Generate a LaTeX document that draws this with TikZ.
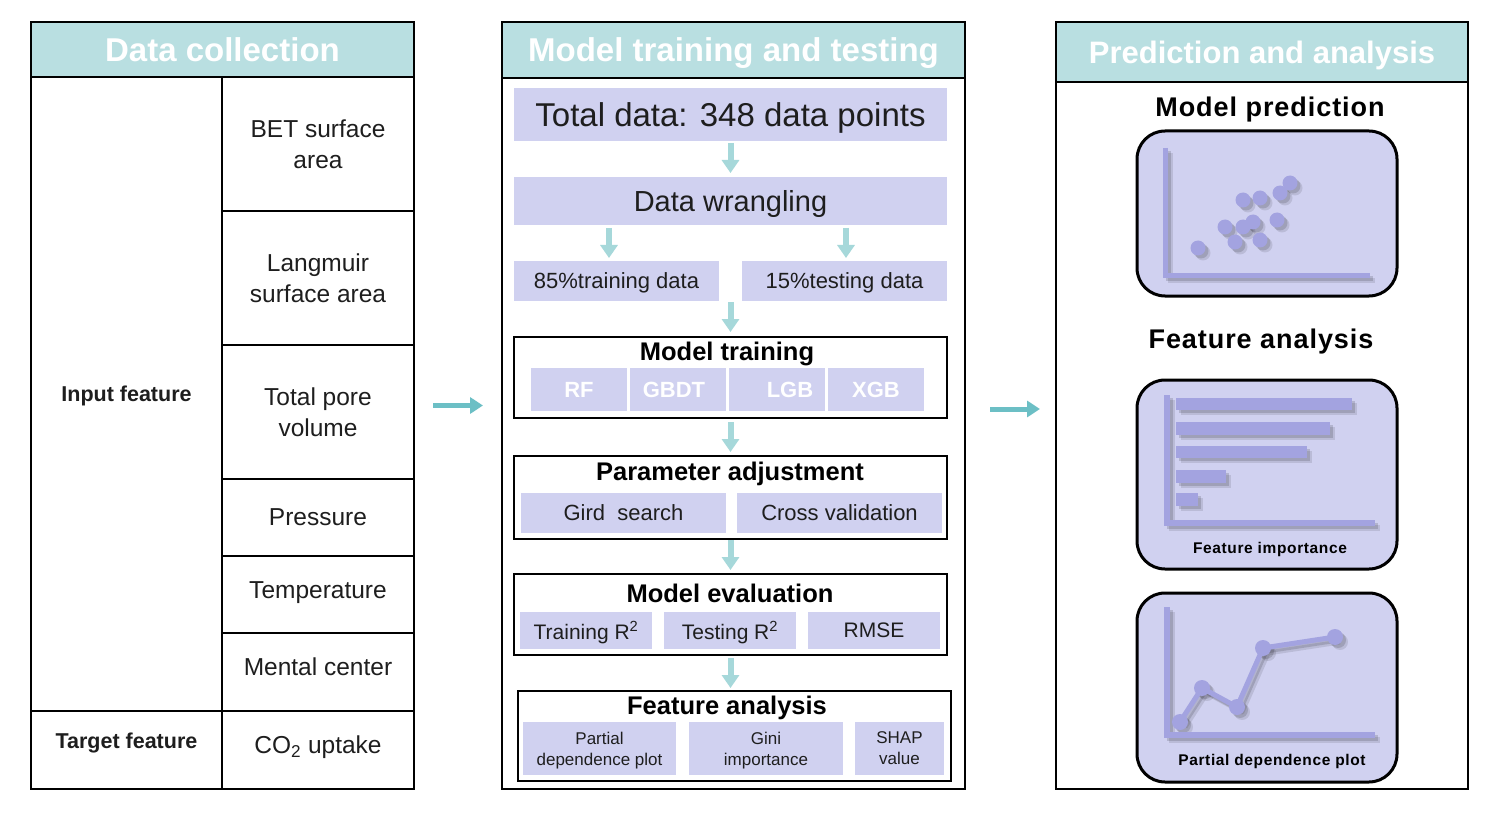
\documentclass[tikz,border=0pt]{standalone}
\usepackage{fontspec}
\setmainfont{Liberation Sans}
\usetikzlibrary{arrows.meta,calc}
\definecolor{hdrc}{RGB}{185,223,225}
\definecolor{lavc}{RGB}{208,209,240}
\definecolor{pltc}{RGB}{163,163,224}
\definecolor{harc}{RGB}{108,191,197}
\definecolor{varc}{RGB}{166,216,218}
\definecolor{txtc}{RGB}{30,30,30}
\newcommand{\fsz}[2]{\fontsize{#1}{#2}\selectfont}
\newcommand{\scatterchart}[1]{%
  \draw[#1, line width=5pt, line join=miter] (1165,148) -- (1165,275.5) -- (1370,275.5);
  \foreach \px/\py in {1198/248,1225/227,1235/242,1243/200,1260/198,1243/227,1253/222,1260/240,1277/220,1280/193,1290/183}
    \fill[#1] (\px,\py) circle[radius=7.5pt];}
\newcommand{\barchart}[1]{%
  \draw[#1, line width=6pt, line join=miter] (1167,395) -- (1167,523) -- (1375,523);
  \fill[#1] (1176,398) rectangle (1352,410);
  \fill[#1] (1176,422) rectangle (1330,435);
  \fill[#1] (1176,446) rectangle (1307,458);
  \fill[#1] (1176,470) rectangle (1226,483);
  \fill[#1] (1176,493) rectangle (1198,506);}
\newcommand{\linechart}[1]{%
  \draw[#1, line width=6pt, line join=miter] (1167,607) -- (1167,735) -- (1375,735);
  \draw[#1, line width=5pt, line join=round] (1180,722) -- (1202,688) -- (1237,707) -- (1263,648) -- (1335,637);
  \foreach \px/\py in {1180/722,1202/688,1237/707,1263/648,1335/637}
    \fill[#1] (\px,\py) circle[radius=8pt];}
\begin{document}
\begin{tikzpicture}[x=1pt,y=-1pt,
  every node/.style={inner sep=0pt, outer sep=0pt, align=center, text=txtc, text depth=0pt},
  panel/.style={draw=black, line width=2pt, fill=white},
  hdr/.style={draw=black, line width=1.5pt, fill=hdrc, text=white, font=\fsz{33}{38}\bfseries},
  cell/.style={draw=black, line width=1.5pt, font=\fsz{24.5}{31}},
  celltxt/.style={font=\fsz{24.5}{31}},
  lbox/.style={fill=lavc},
  frame/.style={draw=black, line width=2pt, fill=white},
  ttl/.style={font=\fsz{25.5}{30}\bfseries, text=black},
  varrow/.style={draw=varc, line width=6pt, -{Triangle[width=17pt,length=13pt]}},
  harrow/.style={draw=harc, line width=5pt, -{Triangle[width=16pt,length=13pt]}},
  rbox/.style={draw=black, line width=3pt, fill=lavc, rounded corners=28pt},
  rttl/.style={font=\fsz{27}{32}\bfseries\addfontfeatures{LetterSpace=3.5}, text=black},
  ctxt/.style={font=\fsz{15.5}{19}\bfseries\addfontfeatures{LetterSpace=4}, text=black},
]
\useasboundingbox[fill=white] (0,0) rectangle (1500,821);

% ---------- Left panel ----------
\node[panel, minimum width=383pt, minimum height=767pt] (p1) at (222.5,405.5) {};
\node[hdr, minimum width=383pt, minimum height=55pt] (h1) at (222.5,49.5) {Data collection};
\node[cell, minimum width=191pt, minimum height=634pt, font=\fsz{21.5}{26}\bfseries] (inp) at (126.5,394) {Input feature};
\node[cell, minimum width=191pt, minimum height=78pt] (tgt) at (126.5,750) {};
\node[font=\fsz{21.5}{26}\bfseries] (tgtl) at (126.5,741) {Target feature};
\node[cell, minimum width=192pt, minimum height=134pt] (bet) at (318,144) {BET surface\\area};
\node[cell, minimum width=192pt, minimum height=134pt] (lang) at (318,278) {Langmuir\\surface area};
\node[cell, minimum width=192pt, minimum height=134pt] (tpv) at (318,412) {Total pore\\volume};
\node[cell, minimum width=192pt, minimum height=77pt] (pres) at (318,517.5) {Pressure};
\node[cell, minimum width=192pt, minimum height=77pt] (temp) at (318,594.5) {};
\node[celltxt] (templ) at (318,590) {Temperature};
\node[cell, minimum width=192pt, minimum height=78pt] (ment) at (318,672) {};
\node[celltxt] (mentl) at (318,667) {Mental center};
\node[cell, minimum width=192pt, minimum height=78pt] (co2) at (318,750) {};
\node[celltxt] (co2l) at (318,745) {CO\textsubscript{2} uptake};
\draw[draw=black, line width=2pt] (p1.north west) rectangle (p1.south east);

% ---------- Middle panel ----------
\node[panel, minimum width=463pt, minimum height=767pt] (p2) at (733.5,405.5) {};
\node[hdr, minimum width=463pt, minimum height=56pt] (h2) at (733.5,50) {Model training and testing};
\node[lbox, minimum width=433pt, minimum height=53pt, font=\fsz{33}{38}] (tot) at (730.5,114.5) {Total data: 348 data points};
\node[lbox, minimum width=433pt, minimum height=48pt, font=\fsz{29}{34}] (wr) at (730.5,201) {Data wrangling};
\node[lbox, minimum width=205pt, minimum height=40pt, font=\fsz{22}{26}] (trd) at (616.5,281) {85\%training data};
\node[lbox, minimum width=205pt, minimum height=40pt, font=\fsz{22}{26}] (ted) at (844.5,281) {15\%testing data};

\node[frame, minimum width=433pt, minimum height=81pt] (mt) at (730.5,377.5) {};
\node[ttl] (mtt) at (727,351) {Model training};
\node[lbox, minimum width=96pt, minimum height=43pt, text=white, font=\fsz{22}{26}\bfseries] (rf) at (579,389.5) {RF};
\node[lbox, minimum width=96pt, minimum height=43pt, text=white, font=\fsz{22}{26}\bfseries] (gb) at (678,389.5) {GBDT\hspace*{8pt}};
\node[lbox, minimum width=96pt, minimum height=43pt, text=white, font=\fsz{22}{26}\bfseries] (lg) at (777,389.5) {\hspace*{26pt}LGB};
\node[lbox, minimum width=96pt, minimum height=43pt, text=white, font=\fsz{22}{26}\bfseries] (xg) at (876,389.5) {XGB};

\node[frame, minimum width=433pt, minimum height=83pt] (pa) at (730.5,497.5) {};
\node[ttl] (pat) at (730,471) {Parameter adjustment};
\node[lbox, minimum width=205pt, minimum height=40pt, font=\fsz{22}{26}] (gs) at (623.5,513) {Gird\ \ search};
\node[lbox, minimum width=205pt, minimum height=40pt, font=\fsz{22}{26}] (cv) at (839.5,513) {Cross validation};

\node[frame, minimum width=433pt, minimum height=81pt] (me) at (730.5,614.5) {};
\node[ttl] (met) at (730,593) {Model evaluation};
\node[lbox, minimum width=132pt, minimum height=37pt, font=\fsz{21}{25}] (trr) at (586,630.5) {Training R\textsuperscript{2}};
\node[lbox, minimum width=132pt, minimum height=37pt, font=\fsz{21}{25}] (ter) at (730,630.5) {Testing R\textsuperscript{2}};
\node[lbox, minimum width=132pt, minimum height=37pt, font=\fsz{21}{25}] (rmse) at (874,630.5) {RMSE};

\node[frame, minimum width=433pt, minimum height=90pt] (fa) at (734.5,736) {};
\node[ttl] (fat) at (727,705) {Feature analysis};
\node[lbox, minimum width=153pt, minimum height=53pt, font=\fsz{17}{21}] (pdp) at (599.5,748.5) {Partial\\dependence plot};
\node[lbox, minimum width=154pt, minimum height=53pt, font=\fsz{17}{21}] (gini) at (766,748.5) {Gini\\importance};
\node[lbox, minimum width=89pt, minimum height=53pt, font=\fsz{17}{21}] (shap) at (899.5,748.5) {SHAP\\value};

\draw[varrow, shorten <=2pt, shorten >=4pt] (tot.south) -- (wr.north);
\draw[varrow, shorten <=3pt, shorten >=3pt] ([xshift=-7.5pt]wr.south -| trd.north) -- ([xshift=-7.5pt]trd.north);
\draw[varrow, shorten <=3pt, shorten >=3pt] ([xshift=1.5pt]wr.south -| ted.north) -- ([xshift=1.5pt]ted.north);
\draw[varrow, shorten <=1pt, shorten >=5pt] (trd.south -| mt.north) -- (mt.north);
\draw[varrow, shorten <=4pt, shorten >=4pt] (mt.south) -- (pa.north);
\draw[varrow, shorten <=1pt, shorten >=4pt] (pa.south) -- (me.north);
\draw[varrow, shorten <=3pt, shorten >=3pt] (me.south) -- (me.south |- fa.north);

% ---------- Right panel ----------
\node[panel, minimum width=412pt, minimum height=767pt] (p3) at (1262,405.5) {};
\node[hdr, minimum width=412pt, minimum height=60pt, font=\fsz{31}{36}\bfseries] (h3) at (1262,52) {Prediction and analysis};
\node[rttl] (mpt) at (1270,107) {Model prediction};
\node[rbox, minimum width=260pt, minimum height=165pt] (b1) at (1267,213.5) {};
\node[rttl] (fat2) at (1261,339) {Feature analysis};
\node[rbox, minimum width=260pt, minimum height=189pt] (b2) at (1267,474.5) {};
\node[rbox, minimum width=260pt, minimum height=189pt] (b3) at (1267,687.5) {};

\foreach \d/\op in {5/0.10, 3/0.14} {
  \begin{scope}[shift={(\d,\d)}]
    \scatterchart{black, opacity=\op}
    \barchart{black, opacity=\op}
    \linechart{black, opacity=\op}
  \end{scope}
}
\scatterchart{pltc}
\barchart{pltc}
\linechart{pltc}
\node[ctxt] (fil) at (1270,548) {Feature importance};
\node[ctxt] (pdl) at (1272,760) {Partial dependence plot};

% ---------- Connecting arrows ----------
\draw[harrow, shorten <=19pt, shorten >=19pt] (p1.east) -- (p2.west);
\draw[harrow, shorten <=25pt, shorten >=16pt] ([yshift=-3.5pt]p2.east) -- ([yshift=-3.5pt]p3.west);
\end{tikzpicture}
\end{document}
